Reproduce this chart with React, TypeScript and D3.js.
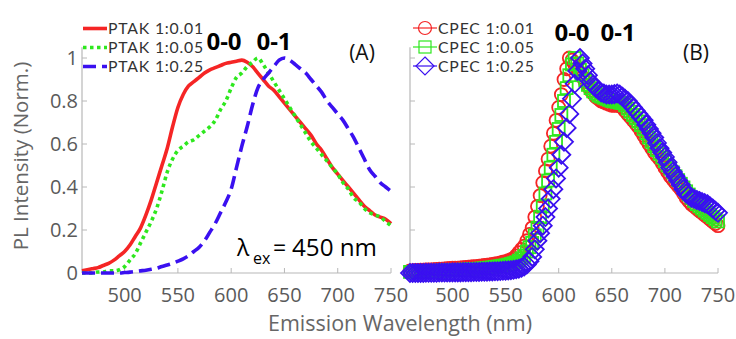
import React from "react";
import * as d3 from "d3";

// ---------- data ----------
const ptakWl = d3.range(460, 751, 5);
const ptak001 = [
  0.01, 0.015, 0.02, 0.025, 0.035, 0.045, 0.06, 0.08, 0.1, 0.13,
  0.17, 0.21, 0.27, 0.34, 0.42, 0.5, 0.58, 0.68, 0.77, 0.83,
  0.87, 0.89, 0.91, 0.93, 0.945, 0.955, 0.965, 0.975, 0.98, 0.985,
  0.99, 0.98, 0.96, 0.93, 0.9, 0.87, 0.85, 0.82, 0.79, 0.76,
  0.73, 0.7, 0.67, 0.64, 0.6, 0.57, 0.53, 0.49, 0.46, 0.43,
  0.4, 0.37, 0.34, 0.31, 0.29, 0.27, 0.26, 0.25, 0.23,
];
const ptak005 = [
  0, 0, 0, 0.005, 0.005, 0.01, 0.01, 0.015, 0.03, 0.06,
  0.09, 0.14, 0.19, 0.24, 0.3, 0.38, 0.47, 0.53, 0.57, 0.59,
  0.61, 0.62, 0.64, 0.66, 0.68, 0.71, 0.76, 0.8, 0.86, 0.91,
  0.93, 0.96, 0.98, 1.0, 0.97, 0.93, 0.89, 0.85, 0.81, 0.77,
  0.73, 0.69, 0.65, 0.61, 0.58, 0.55, 0.52, 0.49, 0.46, 0.42,
  0.39, 0.35, 0.33, 0.3, 0.28, 0.27, 0.26, 0.24, 0.22,
];
const ptak025 = [
  0, 0, 0, 0, 0, 0, 0, 0, 0.002, 0.004,
  0.007, 0.01, 0.013, 0.017, 0.022, 0.03, 0.037, 0.045, 0.055, 0.066,
  0.08, 0.1, 0.12, 0.15, 0.19, 0.23, 0.28, 0.33, 0.39, 0.49,
  0.59, 0.68, 0.78, 0.86, 0.9, 0.93, 0.96, 0.99, 1.0, 0.99,
  0.97, 0.95, 0.93, 0.9, 0.87, 0.84, 0.8, 0.77, 0.74, 0.71,
  0.67, 0.63, 0.58, 0.53, 0.48, 0.45, 0.42, 0.4, 0.38,
];

const cpecWl = d3.range(460, 750.01, 2.5);
const cpec001 = [
  0.01, 0.01, 0.012, 0.012, 0.013, 0.013, 0.014, 0.015,
  0.015, 0.016, 0.017, 0.018, 0.018, 0.019, 0.02, 0.021,
  0.022, 0.022, 0.023, 0.024, 0.025, 0.026, 0.027, 0.028,
  0.029, 0.03, 0.032, 0.033, 0.035, 0.036, 0.038, 0.04,
  0.042, 0.044, 0.047, 0.05, 0.053, 0.057, 0.062, 0.068,
  0.08, 0.095, 0.11, 0.125, 0.15, 0.18, 0.21, 0.26,
  0.31, 0.36, 0.42, 0.475, 0.53, 0.59, 0.65, 0.71,
  0.77, 0.83, 0.9, 0.95, 1.0, 0.99, 0.97, 0.95,
  0.93, 0.91, 0.89, 0.87, 0.85, 0.835, 0.82, 0.81,
  0.8, 0.795, 0.79, 0.785, 0.78, 0.78, 0.78, 0.778,
  0.77, 0.755, 0.74, 0.725, 0.71, 0.695, 0.68, 0.66,
  0.64, 0.62, 0.6, 0.58, 0.56, 0.545, 0.53, 0.51,
  0.49, 0.47, 0.45, 0.435, 0.42, 0.405, 0.39, 0.37,
  0.35, 0.335, 0.32, 0.31, 0.3, 0.29, 0.28, 0.27,
  0.26, 0.25, 0.24, 0.23, 0.22,
];
const cpec005 = [
  0.005, 0.005, 0.006, 0.006, 0.007, 0.007, 0.008, 0.008,
  0.009, 0.009, 0.01, 0.01, 0.011, 0.011, 0.012, 0.012,
  0.013, 0.013, 0.014, 0.014, 0.015, 0.016, 0.016, 0.017,
  0.018, 0.019, 0.02, 0.021, 0.022, 0.023, 0.025, 0.026,
  0.028, 0.03, 0.032, 0.034, 0.036, 0.039, 0.042, 0.046,
  0.05, 0.058, 0.068, 0.08, 0.1, 0.12, 0.14, 0.175,
  0.21, 0.26, 0.31, 0.37, 0.43, 0.49, 0.55, 0.61,
  0.67, 0.735, 0.8, 0.86, 0.92, 0.97, 1.0, 0.975,
  0.945, 0.92, 0.895, 0.875, 0.86, 0.845, 0.835, 0.825,
  0.82, 0.815, 0.81, 0.805, 0.8, 0.798, 0.795, 0.792,
  0.79, 0.78, 0.765, 0.75, 0.735, 0.72, 0.705, 0.688,
  0.67, 0.65, 0.63, 0.61, 0.59, 0.572, 0.555, 0.537,
  0.52, 0.5, 0.485, 0.468, 0.45, 0.432, 0.415, 0.398,
  0.38, 0.365, 0.35, 0.335, 0.32, 0.31, 0.3, 0.29,
  0.28, 0.27, 0.26, 0.25, 0.24,
];
const cpec025 = [
  0, 0, 0, 0, 0, 0, 0.001, 0.001,
  0.001, 0.001, 0.001, 0.002, 0.002, 0.002, 0.002, 0.002,
  0.003, 0.003, 0.003, 0.003, 0.004, 0.004, 0.004, 0.004,
  0.005, 0.005, 0.005, 0.006, 0.006, 0.006, 0.007, 0.007,
  0.008, 0.008, 0.009, 0.01, 0.011, 0.012, 0.013, 0.015,
  0.017, 0.02, 0.024, 0.03, 0.04, 0.055, 0.075, 0.11,
  0.15, 0.185, 0.22, 0.26, 0.3, 0.345, 0.39, 0.44,
  0.49, 0.55, 0.61, 0.675, 0.74, 0.81, 0.88, 0.94,
  1.0, 0.975, 0.95, 0.92, 0.89, 0.875, 0.86, 0.85,
  0.84, 0.835, 0.83, 0.83, 0.83, 0.832, 0.835, 0.83,
  0.82, 0.81, 0.8, 0.785, 0.77, 0.755, 0.74, 0.725,
  0.71, 0.69, 0.67, 0.65, 0.63, 0.605, 0.58, 0.56,
  0.54, 0.515, 0.49, 0.47, 0.45, 0.43, 0.41, 0.39,
  0.37, 0.36, 0.35, 0.345, 0.34, 0.335, 0.33, 0.325,
  0.32, 0.31, 0.3, 0.29, 0.28,
];

const xTicks = [500, 550, 600, 650, 700, 750];
const yTicks = [0, 0.2, 0.4, 0.6, 0.8, 1];
const ptakNames = ["PTAK 1:0.01", "PTAK 1:0.05", "PTAK 1:0.25"];
const cpecNames = ["CPEC 1:0.01", "CPEC 1:0.05", "CPEC 1:0.25"];

// ---------- styling ----------
const RED = "#f52525";
const GREEN = "#2ee81e";
const BLUE = "#3a10f0";
const AXIS = "#b8b8b8";
const FONT = "'Open Sans', 'DejaVu Sans', sans-serif";
const LEGFONT = "Lato, 'Open Sans', sans-serif";

const yS = d3.scaleLinear().domain([0, 1]).range([273, 58]);
const xL = d3.scaleLinear().domain([460, 750]).range([82, 391]);
const xR = d3.scaleLinear().domain([460, 750]).range([410, 718]);

function Axes({ x, labels }: { x: d3.ScaleLinear<number, number>; labels: boolean }) {
  const [x0] = x.range();
  const x1 = x(750);
  return (
    <g>
      <line x1={x0} x2={x1} y1={yS(0)} y2={yS(0)} stroke={AXIS} strokeWidth={1.2} />
      <line x1={x0} x2={x0} y1={yS(0)} y2={yS(1.05)} stroke={AXIS} strokeWidth={1.2} />
      {xTicks.map((t) => (
        <g key={"x" + t}>
          <line x1={x(t)} x2={x(t)} y1={yS(0)} y2={yS(0) - 5} stroke={AXIS} strokeWidth={1} />
          <text x={x(t)} y={302} textAnchor="middle" fontSize={20} fill="#5a5a5a" fontFamily={FONT}>
            {t}
          </text>
        </g>
      ))}
      {yTicks.map((t) => (
        <g key={"y" + t}>
          <line x1={x0} x2={x0 + 5} y1={yS(t)} y2={yS(t)} stroke={AXIS} strokeWidth={1} />
          {labels && (
            <text x={x0 - 4} y={yS(t)} dy="0.35em" textAnchor="end" fontSize={20} fill="#5a5a5a" fontFamily={FONT}>
              {t}
            </text>
          )}
        </g>
      ))}
    </g>
  );
}

function Marker({ kind, cx, cy, color, sw = 1.8 }: { kind: number; cx: number; cy: number; color: string; sw?: number }) {
  if (kind === 0) return <circle cx={cx} cy={cy} r={6.5} fill="none" stroke={color} strokeWidth={sw} />;
  if (kind === 1)
    return <rect x={cx - 6} y={cy - 6} width={12} height={12} fill="none" stroke={color} strokeWidth={sw} />;
  const r = 9;
  return (
    <polygon
      points={`${cx},${cy - r} ${cx + r},${cy} ${cx},${cy + r} ${cx - r},${cy}`}
      fill="none"
      stroke={color}
      strokeWidth={sw}
    />
  );
}

export default function App() {
  const lineL = d3
    .line<number>()
    .x((_, i) => xL(ptakWl[i]))
    .y((d) => yS(d))
    .curve(d3.curveMonotoneX);

  const ptakSeries = [
    { v: ptak001, c: RED, dash: undefined as string | undefined },
    { v: ptak005, c: GREEN, dash: "3.5 3.5" },
    { v: ptak025, c: BLUE, dash: "13 6" },
  ];
  const cpecSeries = [
    { v: cpec001, c: RED, k: 0 },
    { v: cpec005, c: GREEN, k: 1 },
    { v: cpec025, c: BLUE, k: 2 },
  ];
  const legRowY = [28.5, 47.5, 66.5];

  return (
    <svg
      width={736}
      height={339}
      style={{ position: "absolute", left: 0, top: 0, background: "#fff" }}
      fontFamily={FONT}
    >
      <rect width={736} height={339} fill="#fff" />
      <Axes x={xL} labels={true} />
      <Axes x={xR} labels={false} />

      {/* left panel lines */}
      {ptakSeries.map((s, i) => (
        <path
          key={i}
          d={lineL(s.v) || ""}
          fill="none"
          stroke={s.c}
          strokeWidth={3.6}
          strokeDasharray={s.dash}
          strokeLinejoin="round"
        />
      ))}

      {/* right panel markers */}
      {cpecSeries.map((s, i) => (
        <g key={i}>
          {s.v.map((d, j) => (
            <Marker key={j} kind={s.k} cx={xR(cpecWl[j])} cy={yS(d)} color={s.c} />
          ))}
        </g>
      ))}

      {/* left legend */}
      {ptakSeries.map((s, i) => (
        <g key={"lg" + i}>
          <line
            x1={83}
            x2={107}
            y1={legRowY[i]}
            y2={legRowY[i]}
            stroke={s.c}
            strokeWidth={3.6}
            strokeDasharray={s.dash}
          />
          <text x={108} y={legRowY[i]} dy="0.36em" fontSize={15.8} letterSpacing={0.8} fill="#333" fontFamily={LEGFONT}>
            {ptakNames[i]}
          </text>
        </g>
      ))}

      {/* right legend */}
      {cpecSeries.map((s, i) => (
        <g key={"rg" + i}>
          <line x1={413} x2={437} y1={legRowY[i] - 0.5} y2={legRowY[i] - 0.5} stroke={s.c} strokeWidth={1.2} />
          <Marker kind={s.k} cx={425} cy={legRowY[i] - 0.5} color={s.c} sw={1.2} />
          <text x={438} y={legRowY[i] - 0.5} dy="0.36em" fontSize={15.8} letterSpacing={0.8} fill="#333" fontFamily={LEGFONT}>
            {cpecNames[i]}
          </text>
        </g>
      ))}

      {/* annotations */}
      <text x={224} y={42} dy="0.35em" textAnchor="middle" fontSize={24} fontWeight="bold" fill="#000">0-0</text>
      <text x={274} y={42} dy="0.35em" textAnchor="middle" fontSize={24} fontWeight="bold" fill="#000">0-1</text>
      <text x={572} y={33} dy="0.35em" textAnchor="middle" fontSize={24} fontWeight="bold" fill="#000">0-0</text>
      <text x={618} y={33} dy="0.35em" textAnchor="middle" fontSize={24} fontWeight="bold" fill="#000">0-1</text>
      <text x={362} y={53} dy="0.35em" textAnchor="middle" fontSize={21} fill="#111">(A)</text>
      <text x={696} y={53} dy="0.35em" textAnchor="middle" fontSize={21} fill="#111">(B)</text>

      <text x={237} y={256} fontSize={23} fill="#000">λ</text>
      <text x={253} y={264} fontSize={16} fill="#000">ex</text>
      <text x={273} y={256} fontSize={23} fill="#000">=</text>
      <text x={292} y={256} fontSize={23} fill="#000" textLength={85} lengthAdjust="spacingAndGlyphs">
        450 nm
      </text>

      {/* axis titles */}
      <text transform="translate(28,156) rotate(-90)" textAnchor="middle" fontSize={20.5} fill="#666">
        PL Intensity (Norm.)
      </text>
      <text x={400} y={331} textAnchor="middle" fontSize={21.5} fill="#666">
        Emission Wavelength (nm)
      </text>
    </svg>
  );
}
